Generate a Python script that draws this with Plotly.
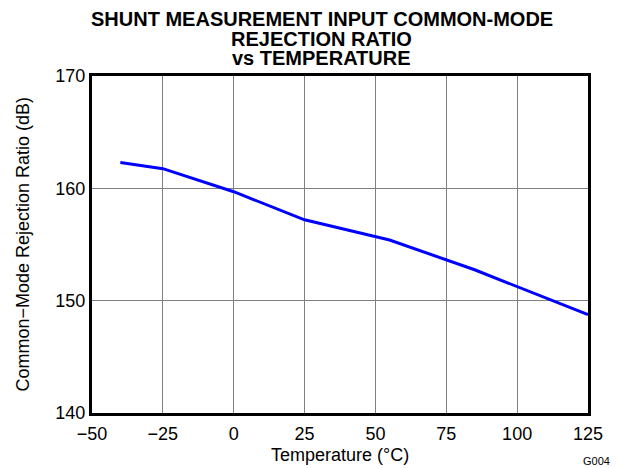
import plotly.graph_objects as go

temperature = [-40, -25, 0, 25, 55, 85, 125]
cmrr_db = [162.3, 161.75, 159.7, 157.2, 155.4, 152.75, 148.75]

x_ticks = [-50, -25, 0, 25, 50, 75, 100, 125]
y_ticks = [140, 150, 160, 170]

title_lines = ["SHUNT MEASUREMENT INPUT COMMON-MODE", "REJECTION RATIO", "vs TEMPERATURE"]

font = "Liberation Sans, Arial, sans-serif"

fig = go.Figure()
fig.add_trace(go.Scatter(x=temperature, y=cmrr_db, mode="lines",
                         line=dict(color="#0000FF", width=3), showlegend=False))

fig.update_layout(
    width=613, height=460,
    margin=dict(l=84, r=33, t=68, b=55, autoexpand=False),
    paper_bgcolor="white", plot_bgcolor="white",
    font=dict(family=font, size=18, color="black"),
    xaxis=dict(range=[-50, 125], tickvals=x_ticks, showgrid=True, gridcolor="#808080", gridwidth=1,
               zeroline=False, showline=True, linecolor="black", linewidth=3, mirror=True,
               ticks="", ticklabelstandoff=2, tickfont=dict(size=18)),
    yaxis=dict(range=[140, 170], tickvals=y_ticks, showgrid=True, gridcolor="#808080", gridwidth=1,
               zeroline=False, showline=True, linecolor="black", linewidth=3, mirror=True,
               ticks="", tickfont=dict(size=18)),
)

title_y = [1.169, 1.111, 1.053]
for txt, yy in zip(title_lines, title_y):
    fig.add_annotation(text="<b>%s</b>" % txt, xref="paper", yref="paper", x=0.4637, y=yy,
                       xanchor="center", yanchor="middle", showarrow=False,
                       font=dict(family=font, size=20, color="black"))

fig.add_annotation(text="Temperature (°C)", xref="paper", yref="paper", x=0.5, y=-0.124,
                   xanchor="center", yanchor="middle", showarrow=False,
                   font=dict(family=font, size=18, color="black"))
fig.add_annotation(text="Common−Mode Rejection Ratio (dB)", xref="paper", yref="paper", x=-0.141, y=0.5,
                   xanchor="center", yanchor="middle", textangle=-90, showarrow=False,
                   font=dict(family=font, size=18, color="black"))
fig.add_annotation(text="G004", xref="paper", yref="paper", x=1.048, y=-0.142,
                   xanchor="right", yanchor="middle", showarrow=False,
                   font=dict(family=font, size=11, color="black"))
fig.write_html("out.html")
